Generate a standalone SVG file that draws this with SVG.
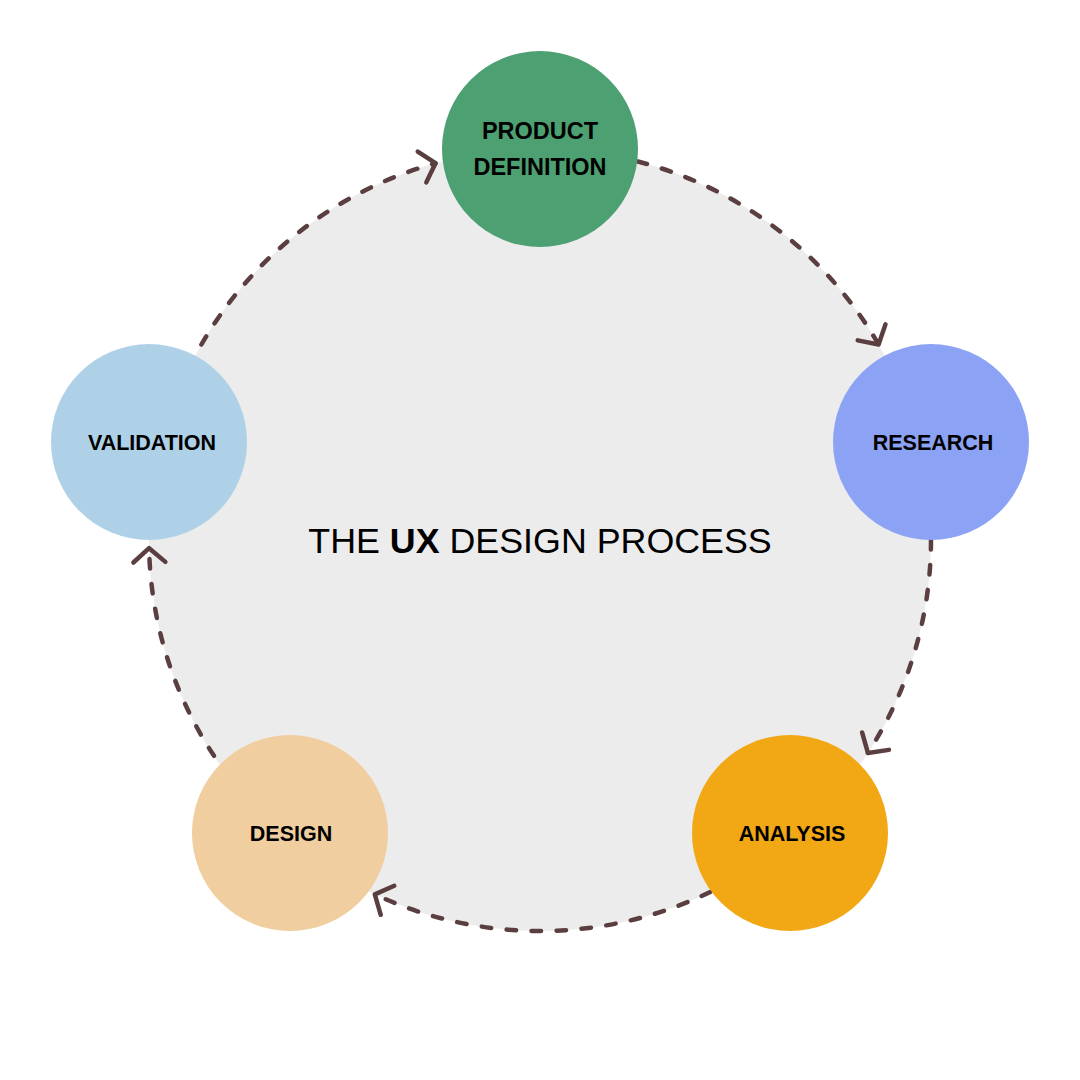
<svg xmlns="http://www.w3.org/2000/svg" width="1080" height="1080" viewBox="0 0 1080 1080">
  <style>
    .lbl { font-family: "Liberation Sans", Arial, sans-serif; font-weight: bold; fill: #000; text-anchor: middle; }
    .conn { fill: none; stroke: #5b3f40; stroke-width: 4.5; stroke-linecap: round; stroke-dasharray: 9.5 15.5; }
    .title { font-family: "Liberation Sans", Arial, sans-serif; font-size: 35.8px; fill: #000; text-anchor: middle; }
  </style>
  <defs>
    <marker id="arr" markerUnits="userSpaceOnUse" markerWidth="40" markerHeight="40" viewBox="-20 -20 40 40" refX="0" refY="0" orient="auto" overflow="visible">
      <path d="M-14,-16 L0,0 L-14,16" fill="none" stroke="#5b3f40" stroke-width="4.5" stroke-linecap="round" stroke-linejoin="round"/>
    </marker>
  </defs>
  <rect width="1080" height="1080" fill="#ffffff"/>
  <circle id="backdrop" cx="540" cy="540" r="391" fill="#ececec"/>
  <g id="connectors">
    <path class="conn" d="M637.9,161.5 A391,391 0 0 1 878.6,344.5" marker-end="url(#arr)"/>
    <path class="conn" d="M931,540 A391,391 0 0 1 867.9,752.9" marker-end="url(#arr)"/>
    <path class="conn" d="M710.2,892 A391,391 0 0 1 374.8,894.4" marker-end="url(#arr)"/>
    <path class="conn" d="M214,755.8 A391,391 0 0 1 149.1,548.2" marker-end="url(#arr)"/>
    <path class="conn" d="M201.4,344.5 A391,391 0 0 1 435.5,163.2" marker-end="url(#arr)"/>
  </g>
  <g id="node-product-definition">
    <circle cx="540" cy="149" r="98" fill="#4ca071"/>
    <text class="lbl" x="540" y="139" font-size="23.5">PRODUCT</text>
    <text class="lbl" x="540" y="175" font-size="23.5">DEFINITION</text>
  </g>
  <g id="node-research">
    <circle cx="931" cy="442" r="98" fill="#8ca3f5"/>
    <text class="lbl" x="933" y="450" font-size="21.5">RESEARCH</text>
  </g>
  <g id="node-analysis">
    <circle cx="790" cy="833" r="98" fill="#f2a714"/>
    <text class="lbl" x="792" y="841" font-size="21.5">ANALYSIS</text>
  </g>
  <g id="node-design">
    <circle cx="290" cy="833" r="98" fill="#f0cea0"/>
    <text class="lbl" x="291" y="841" font-size="21.5">DESIGN</text>
  </g>
  <g id="node-validation">
    <circle cx="149" cy="442" r="98" fill="#afd1e8"/>
    <text class="lbl" x="152" y="450" font-size="21.5">VALIDATION</text>
  </g>
  <text class="title" x="540" y="553">THE <tspan font-weight="bold">UX</tspan> DESIGN PROCESS</text>
</svg>
